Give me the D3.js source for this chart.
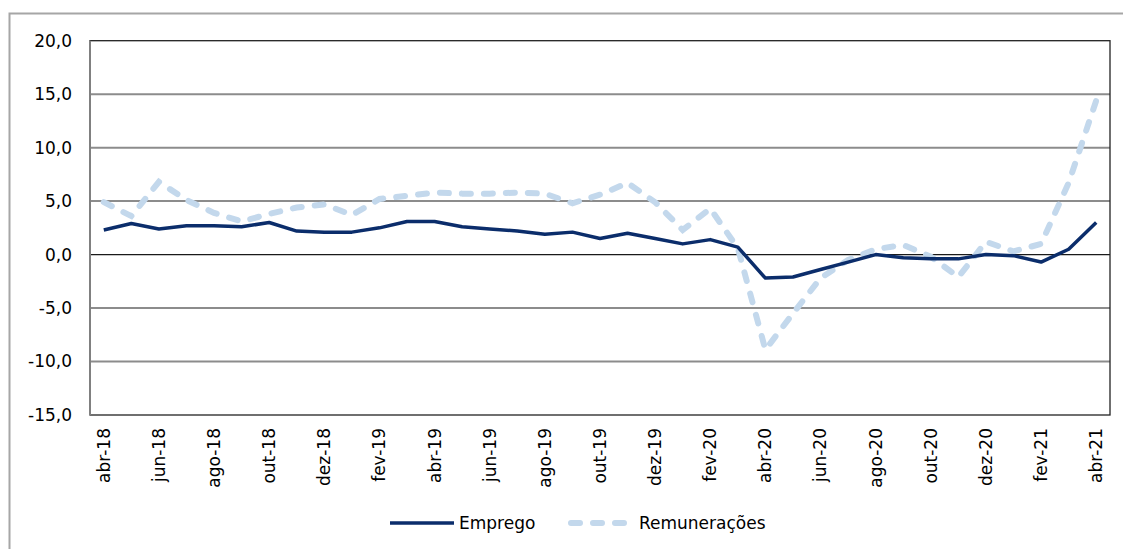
<!DOCTYPE html>
<html>
<head>
<meta charset="utf-8">
<script src="https://cdn.jsdelivr.net/npm/d3@7"></script>
<style>
  body { margin: 0; background: #fff; }
  svg text { font-family: "DejaVu Sans", Verdana, sans-serif; fill: #000; }
</style>
</head>
<body>
<svg id="chart" width="1123" height="549"></svg>
<script>
// meses (abr-18 .. abr-21)
var months = ["abr-18","mai-18","jun-18","jul-18","ago-18","set-18","out-18","nov-18","dez-18",
  "jan-19","fev-19","mar-19","abr-19","mai-19","jun-19","jul-19","ago-19","set-19","out-19","nov-19","dez-19",
  "jan-20","fev-20","mar-20","abr-20","mai-20","jun-20","jul-20","ago-20","set-20","out-20","nov-20","dez-20",
  "jan-21","fev-21","mar-21","abr-21"];

var emprego = [2.3, 2.9, 2.4, 2.7, 2.7, 2.6, 3.0, 2.2, 2.1, 2.1, 2.5, 3.1, 3.1, 2.6, 2.4, 2.2, 1.9, 2.1, 1.5,
  2.0, 1.5, 1.0, 1.4, 0.7, -2.2, -2.1, -1.4, -0.7, 0.0, -0.3, -0.4, -0.4, 0.0, -0.1, -0.7, 0.5, 3.0];

var remuneracoes = [4.9, 3.6, 6.8, 5.1, 3.9, 3.1, 3.8, 4.4, 4.7, 3.7, 5.2, 5.5, 5.8, 5.7, 5.7, 5.8, 5.7, 4.8, 5.6,
  6.7, 4.9, 2.3, 4.3, 0.6, -8.9, -5.5, -2.2, -0.5, 0.5, 0.9, -0.2, -2.1, 1.2, 0.3, 1.0, 6.7, 14.4];

var yTicks = [-15, -10, -5, 0, 5, 10, 15, 20];

var svg = d3.select("#chart");

// moldura exterior
svg.append("rect")
  .attr("x", 9.5).attr("y", 13.5)
  .attr("width", 1200).attr("height", 600)
  .attr("fill", "none").attr("stroke", "#a6a6a6").attr("stroke-width", 2);

var pLeft = 90, pRight = 1110, pTop = 40.7, pBottom = 415;

var x = d3.scaleBand()
  .domain(months)
  .range([pLeft, pRight]);

var y = d3.scaleLinear()
  .domain([-15, 20])
  .range([pBottom, pTop]);

var ptLocale = d3.formatLocale({ decimal: ",", thousands: ".", grouping: [3], currency: ["", " €"], minus: "-" });
var fmt = ptLocale.format(".1f");

// grelha
svg.append("g").selectAll("line")
  .data(yTicks.filter(function (d) { return d !== 0 && d !== 20 && d !== -15; }))
  .enter().append("line")
  .attr("x1", pLeft).attr("x2", pRight)
  .attr("y1", function (d) { return y(d); })
  .attr("y2", function (d) { return y(d); })
  .attr("stroke", "#8c8c8c").attr("stroke-width", 2);

// linha do zero
svg.append("line")
  .attr("x1", pLeft).attr("x2", pRight)
  .attr("y1", y(0)).attr("y2", y(0))
  .attr("stroke", "#1a1a1a").attr("stroke-width", 1.2);

// caixa do grafico
svg.append("rect")
  .attr("x", pLeft).attr("y", pTop)
  .attr("width", pRight - pLeft).attr("height", pBottom - pTop)
  .attr("fill", "none").attr("stroke", "#222").attr("stroke-width", 1.3);

svg.append("line")
  .attr("x1", pLeft).attr("x2", pLeft)
  .attr("y1", pTop).attr("y2", pBottom)
  .attr("stroke", "#808080").attr("stroke-width", 2);

// eixo y
var yAxis = d3.axisLeft(y).tickValues(yTicks).tickFormat(fmt).tickSize(0).tickPadding(18);
var gy = svg.append("g").attr("transform", "translate(" + pLeft + ",0)").call(yAxis);
gy.select(".domain").remove();
gy.selectAll("text").attr("font-size", 17).attr("font-family", "DejaVu Sans, sans-serif");

// eixo x
var xAxis = d3.axisBottom(x)
  .tickValues(months.filter(function (d, i) { return i % 2 === 0; }))
  .tickSize(0);
var gx = svg.append("g").attr("transform", "translate(0," + pBottom + ")").call(xAxis);
gx.select(".domain").remove();
gx.selectAll("text")
  .attr("font-size", 17)
  .attr("font-family", "DejaVu Sans, sans-serif")
  .attr("text-anchor", "end")
  .attr("transform", "rotate(-90)")
  .attr("x", -13)
  .attr("y", 0)
  .attr("dy", "0.35em");

var cx = function (d, i) { return x(months[i]) + x.bandwidth() / 2; };

var line = d3.line()
  .x(cx)
  .y(function (d) { return y(d); });

svg.append("path")
  .datum(remuneracoes)
  .attr("d", line)
  .attr("fill", "none")
  .attr("stroke", "#c3d8ec")
  .attr("stroke-width", 6)
  .attr("stroke-linecap", "round")
  .attr("stroke-dasharray", "9,13");

svg.append("path")
  .datum(emprego)
  .attr("d", line)
  .attr("fill", "none")
  .attr("stroke", "#0b2d6b")
  .attr("stroke-width", 3.5)
  .attr("stroke-linejoin", "round");

// legenda
var legY = 523;
svg.append("line")
  .attr("x1", 390).attr("x2", 454).attr("y1", legY).attr("y2", legY)
  .attr("stroke", "#0b2d6b").attr("stroke-width", 3.5);
svg.append("text")
  .attr("x", 459).attr("y", legY).attr("dy", "0.35em")
  .attr("font-size", 17).text("Emprego");

svg.append("line")
  .attr("x1", 571).attr("x2", 628).attr("y1", legY).attr("y2", legY)
  .attr("stroke", "#c3d8ec").attr("stroke-width", 6)
  .attr("stroke-linecap", "round")
  .attr("stroke-dasharray", "9,13");
svg.append("text")
  .attr("x", 639).attr("y", legY).attr("dy", "0.35em")
  .attr("font-size", 17).text("Remunerações");
</script>
</body>
</html>
